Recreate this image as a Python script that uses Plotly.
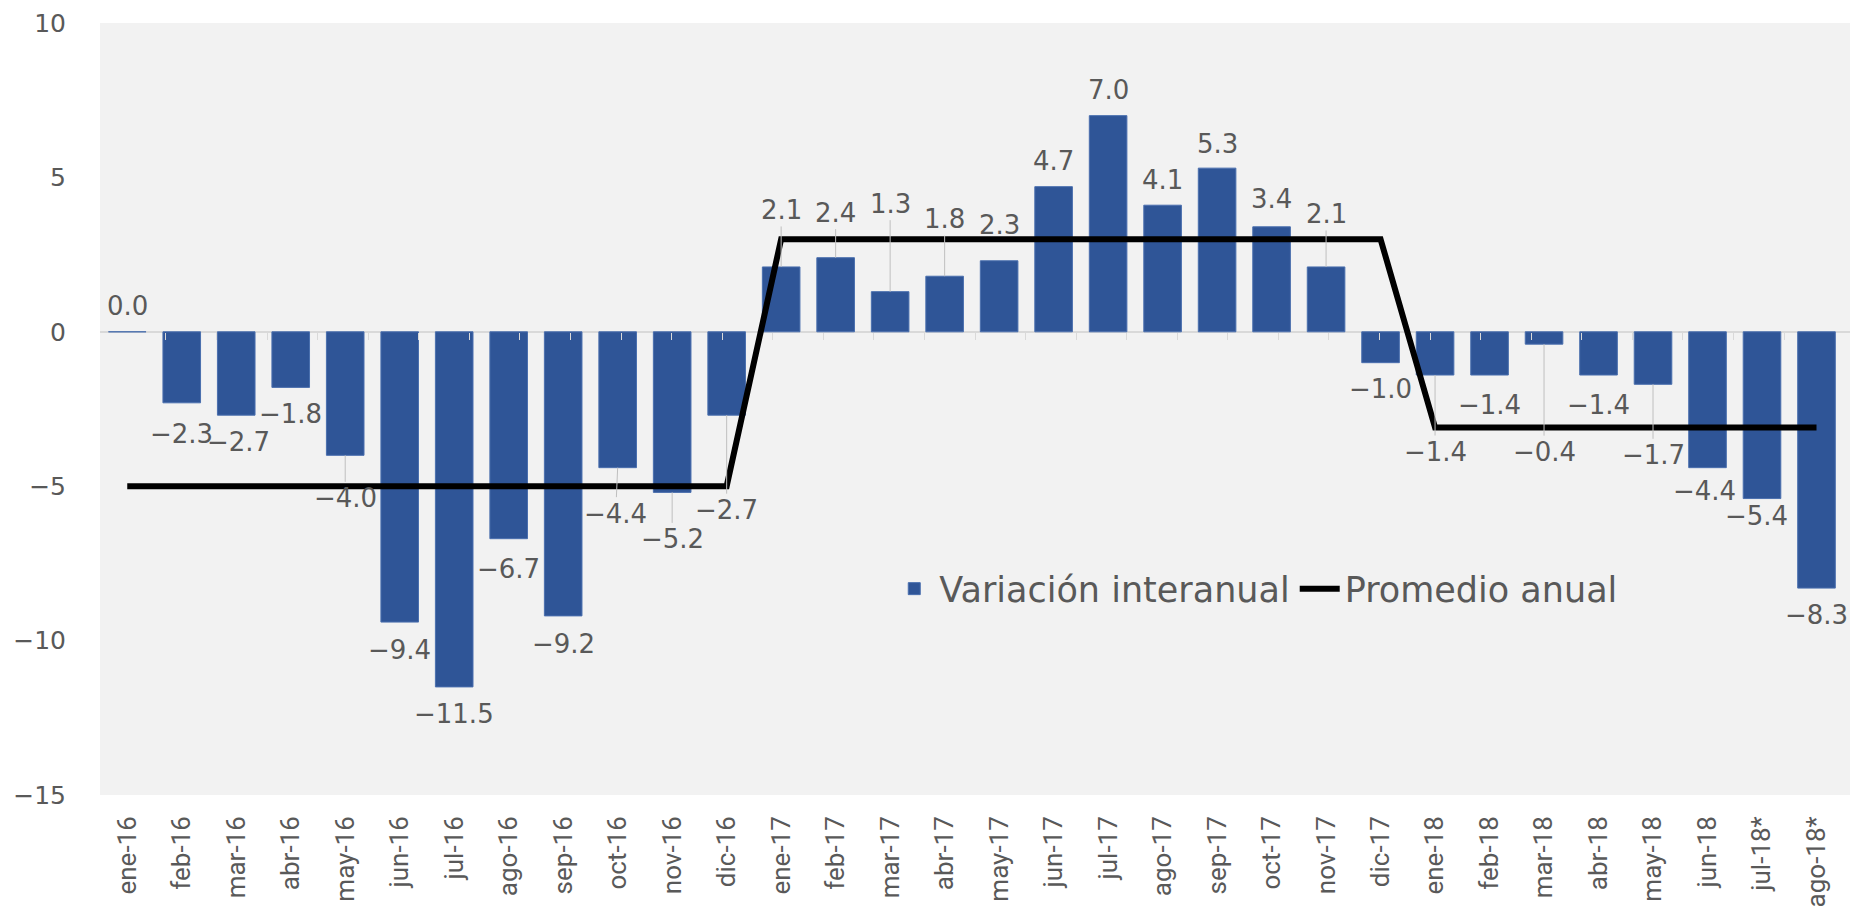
import plotly.graph_objects as go

# Meses (eje X)
meses = ["ene-16", "feb-16", "mar-16", "abr-16", "may-16", "jun-16", "jul-16", "ago-16",
         "sep-16", "oct-16", "nov-16", "dic-16", "ene-17", "feb-17", "mar-17", "abr-17",
         "may-17", "jun-17", "jul-17", "ago-17", "sep-17", "oct-17", "nov-17", "dic-17",
         "ene-18", "feb-18", "mar-18", "abr-18", "may-18", "jun-18", "jul-18*", "ago-18*"]

# Variación interanual (%)
variacion = [0.0, -2.3, -2.7, -1.8, -4.0, -9.4, -11.5, -6.7,
             -9.2, -4.4, -5.2, -2.7, 2.1, 2.4, 1.3, 1.8,
             2.3, 4.7, 7.0, 4.1, 5.3, 3.4, 2.1, -1.0,
             -1.4, -1.4, -0.4, -1.4, -1.7, -4.4, -5.4, -8.3]

# Promedio anual
promedio = [-5.0] * 12 + [3.0] * 12 + [-3.1] * 8

# label placement (pixel offsets from the bar end, like Excel's moved labels)
label_dx = [0, 0, 2, 0, 0, 0, 0, 0, 0, -2, 0, 0, 0, 0, 0, 0,
            0, 0, 0, 0, 0, 0, 0, 0, 0, 0, 0, 0, 0, -3, -6, 0]
label_dy = [-26, 31, 27, 27, 43, 28, 27, 30, 28, 46, 47, 95, -57, -45, -88, -57,
            -36, -26, -26, -25, -24, -28, -53, 26, 77, 30, 108, 30, 71, 23, 17, 27]

GREY = "#595959"
fig = go.Figure()

fig.add_trace(go.Bar(x=meses, y=variacion, name="Variación interanual",
                     marker=dict(color="#2f5597", line=dict(color="#4a6fae", width=1))))
fig.add_trace(go.Scatter(x=meses, y=promedio, name="Promedio anual", mode="lines",
                         line=dict(color="black", width=6)))
# invisible trace to draw the tick marks along the zero line
fig.add_trace(go.Scatter(x=meses, y=variacion, xaxis="x2", mode="markers",
                         marker=dict(opacity=0), showlegend=False, hoverinfo="skip"))

for m, v, dx, dy in zip(meses, variacion, label_dx, label_dy):
    txt = f"{v:.1f}".replace("-", "−")
    if abs(dy) > 40:
        fig.add_annotation(x=m, y=v, text=txt, showarrow=True, ax=dx, ay=dy,
                           arrowhead=0, arrowwidth=1, arrowcolor="#bfbfbf", standoff=0,
                           font=dict(family="DejaVu Sans", size=26, color=GREY))
    else:
        fig.add_annotation(x=m, y=v, text=txt, showarrow=False, xshift=dx, yshift=-dy,
                           font=dict(family="DejaVu Sans", size=26, color=GREY))

fig.update_layout(
    width=1850, height=899,
    margin=dict(l=92, r=8, t=15, b=112),
    paper_bgcolor="white", plot_bgcolor="#f2f2f2",
    bargap=0.31,
    showlegend=True,
    legend=dict(orientation="h", x=0.451, y=0.267, xanchor="left", yanchor="middle",
                bgcolor="rgba(0,0,0,0)", font=dict(family="DejaVu Sans", size=35, color=GREY),
                itemwidth=40, tracegroupgap=0),
    xaxis=dict(tickangle=-90, tickfont=dict(family="Roboto", size=26, color=GREY),
               showgrid=False, ticks="", showline=False, ticklabelstandoff=15,
               automargin=False),
    xaxis2=dict(overlaying="x", anchor="free", position=0.6, categoryorder="array",
                categoryarray=meses, tickson="boundaries", ticks="outside", ticklen=7,
                tickcolor="#d9d9d9", showticklabels=False, showgrid=False, showline=False,
                automargin=False),
    yaxis=dict(range=[-15, 10], dtick=5, showgrid=False, zeroline=True,
               zerolinecolor="#d9d9d9", zerolinewidth=2,
               tickfont=dict(family="DejaVu Sans", size=25, color=GREY),
               ticklabelstandoff=33, automargin=False),
)

fig.write_html("out.html")
